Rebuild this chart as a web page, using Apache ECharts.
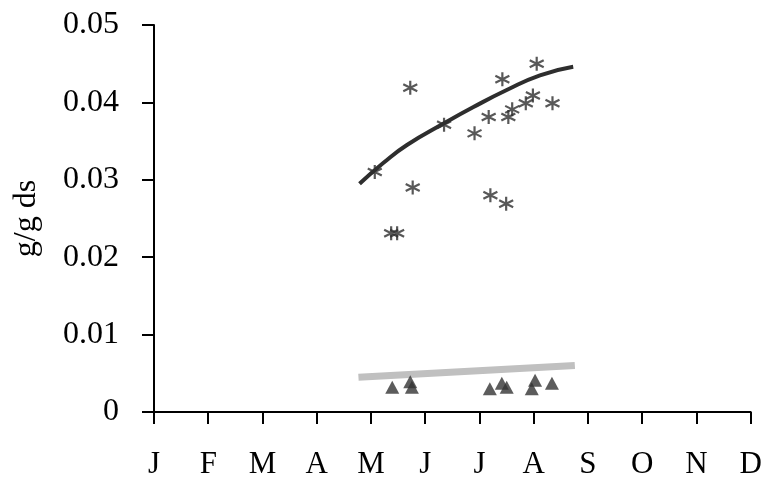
<!DOCTYPE html>
<html>
<head>
<meta charset="utf-8">
<script src="https://cdn.jsdelivr.net/npm/echarts@6/dist/echarts.min.js"></script>
<style>
  html, body { margin: 0; padding: 0; background: #fff; }
  #chart { width: 765px; height: 481px; }
</style>
</head>
<body>
<div id="chart"></div>
<script>
// month letters on the x axis (x value = months since start of January)
const months = ["J", "F", "M", "A", "M", "J", "J", "A", "S", "O", "N", "D"];

// asterisk points [month, g/g ds]
const starPoints = [
  [4.070, 0.0310], [4.372, 0.0231], [4.482, 0.0231], [4.724, 0.0419], [4.769, 0.0290],
  [5.347, 0.0371], [5.909, 0.0360], [6.170, 0.0381], [6.201, 0.0280], [6.422, 0.0430],
  [6.492, 0.0269], [6.532, 0.0381], [6.603, 0.0391], [6.854, 0.0399], [6.985, 0.0409],
  [7.055, 0.0450], [7.346, 0.0399]
];

// dark trend line
const starTrend = [
  [3.789, 0.0295], [4.231, 0.0322], [4.663, 0.0345], [5.347, 0.0373], [5.889, 0.0394],
  [6.502, 0.0416], [7.115, 0.0435], [7.728, 0.0446]
];

// triangle points
const triPoints = [
  [4.392, 0.0032], [4.724, 0.0039], [4.754, 0.0032], [6.191, 0.0030], [6.412, 0.0037],
  [6.502, 0.0032], [6.964, 0.0030], [7.025, 0.0041], [7.336, 0.0037]
];

// grey trend line
const triTrend = [[3.769, 0.0045], [7.758, 0.0060]];

const asterisk = "path://M0,-10L0,10M-8.7,-5L8.7,5M-8.7,5L8.7,-5";
const font = "'Liberation Serif', 'Times New Roman', serif";

const chart = echarts.init(document.getElementById("chart"));
chart.setOption({
  animation: false,
  grid: { left: 154, right: 14.3, top: 25, bottom: 69 },
  xAxis: {
    type: "value",
    min: 0,
    max: 11,
    interval: 1,
    axisLine: { onZero: false, lineStyle: { color: "#000", width: 2 } },
    axisTick: { length: 12, lineStyle: { color: "#000", width: 2 } },
    splitLine: { show: false },
    axisLabel: {
      margin: 37,
      fontFamily: font,
      fontSize: 31,
      color: "#000",
      formatter: (v) => months[Math.round(v)]
    }
  },
  yAxis: {
    type: "value",
    min: 0,
    max: 0.05,
    interval: 0.01,
    name: "g/g ds",
    nameLocation: "middle",
    nameGap: 111,
    nameTextStyle: { fontFamily: font, fontSize: 32, color: "#000" },
    axisLine: { show: true, lineStyle: { color: "#000", width: 2 } },
    axisTick: { show: true, length: 12, lineStyle: { color: "#000", width: 2 } },
    splitLine: { show: false },
    axisLabel: {
      margin: 35,
      fontFamily: font,
      fontSize: 32,
      color: "#000",
      formatter: (v) => (v === 0 ? "0" : v.toFixed(2))
    }
  },
  series: [
    {
      type: "line",
      data: triTrend,
      showSymbol: false,
      lineStyle: { color: "#c0c0c0", width: 7 },
      z: 1
    },
    {
      type: "line",
      data: starTrend,
      smooth: true,
      showSymbol: false,
      lineStyle: { color: "#2e2e2e", width: 4 },
      z: 2
    },
    {
      type: "scatter",
      data: starPoints,
      symbol: asterisk,
      symbolSize: 14,
      itemStyle: { color: "transparent", borderColor: "#2e2e2e", borderWidth: 2.2 },
      z: 3
    },
    {
      type: "scatter",
      data: triPoints,
      symbol: "triangle",
      symbolSize: [14, 13],
      itemStyle: { color: "#333" },
      z: 3
    }
  ]
});
</script>
</body>
</html>
